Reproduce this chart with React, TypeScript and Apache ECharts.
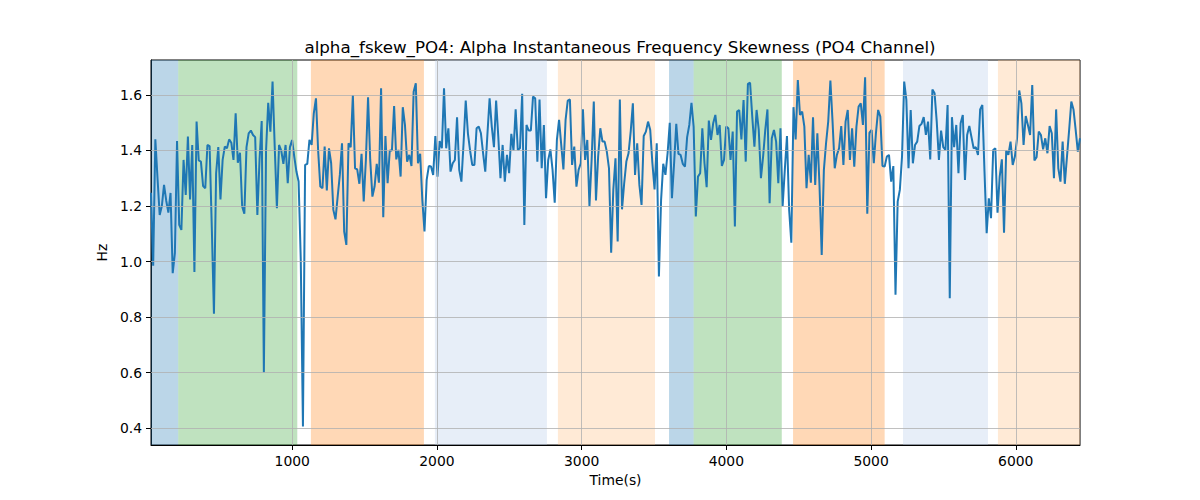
import { useEffect, useRef } from 'react'
import * as echarts from 'echarts'

// sampling grid of the signal (seconds)
const sampleStart = 24
const sampleStep = 15

// alpha fskew values (Hz), one per sample
const skewValues: number[] = [
  1.248, 0.985, 1.44, 1.3, 1.168, 1.2, 1.276, 1.22, 1.176, 1.247, 0.958, 1.03, 1.434,
  1.132, 1.114, 1.366, 1.24, 1.45, 1.224, 1.42, 0.962, 1.504, 1.364, 1.36, 1.272, 1.264,
  1.42, 1.416, 1.126, 0.812, 1.318, 1.412, 1.224, 1.366, 1.414, 1.408, 1.44, 1.428, 1.366,
  1.534, 1.356, 1.392, 1.198, 1.172, 1.412, 1.462, 1.472, 1.456, 1.448, 1.168, 1.366, 1.506,
  0.6, 1.4, 1.572, 1.468, 1.648, 1.414, 1.192, 1.42, 1.4, 1.352, 1.42, 1.282, 1.412,
  1.438, 1.378, 1.324, 1.288, 1.006, 0.406,
  // 71
  1.348, 1.352, 1.438, 1.42, 1.534, 1.588, 1.4, 1.27, 1.264, 1.414, 1.256, 1.408, 1.354,
  1.186, 1.152, 1.234, 1.312, 1.426, 1.108, 1.06, 1.426, 1.412, 1.6, 1.336, 1.332, 1.28,
  1.388, 1.216, 1.366, 1.592, 1.366, 1.234, 1.27, 1.352, 1.284, 1.624, 1.16, 1.452, 1.282,
  1.4, 1.4, 1.56, 1.368, 1.402, 1.306, 1.556, 1.492, 1.36, 1.384, 1.344, 1.612, 1.642,
  1.354, 1.388, 1.222, 1.108, 1.294, 1.344, 1.342, 1.312, 1.452, 1.306, 1.434, 1.408, 1.624,
  1.408, 1.48, 1.324, 1.354, 1.366, 1.52, 1.33,
  // 143
  1.288, 1.426, 1.58, 1.462, 1.4, 1.348, 1.348, 1.48, 1.486, 1.462, 1.39, 1.324, 1.46,
  1.588, 1.486, 1.412, 1.58, 1.45, 1.3, 1.42, 1.288, 1.384, 1.318, 1.46, 1.4, 1.548,
  1.402, 1.408, 1.604, 1.132, 1.492, 1.472, 1.472, 1.594, 1.588, 1.36, 1.584, 1.336, 1.492,
  1.228, 1.366, 1.404, 1.33, 1.212, 1.438, 1.51, 1.42, 1.332, 1.51, 1.58, 1.584, 1.348,
  1.414, 1.27, 1.33, 1.354, 1.548, 1.366, 1.438, 1.2, 1.366, 1.576, 1.22, 1.378, 1.48,
  1.432, 1.432, 1.396, 1.336, 1.032, 1.26,
  // 214
  1.372, 1.072, 1.584, 1.188, 1.282, 1.36, 1.39, 1.468, 1.57, 1.312, 1.426, 1.276, 1.204,
  1.452, 1.468, 1.504, 1.474, 1.354, 1.26, 1.426, 0.946, 1.222, 1.352, 1.312, 1.39, 1.5,
  1.228, 1.354, 1.496, 1.388, 1.384, 1.352, 1.342, 1.448, 1.492, 1.572, 1.486, 1.162, 1.306,
  1.318, 1.48, 1.354, 1.268, 1.508, 1.438, 1.498, 1.528, 1.456, 1.492, 1.344, 1.366, 1.486,
  1.48, 1.366, 1.468, 1.126, 1.54, 1.546, 1.44, 1.582, 1.36, 1.64, 1.644, 1.522, 1.414,
  1.546, 1.474, 1.3, 1.378, 1.474, 1.548, 1.21,
  // 286
  1.444, 1.474, 1.432, 1.282, 1.48, 1.2, 1.33, 1.452, 1.186, 1.068, 1.556, 1.44, 1.654,
  1.528, 1.54, 1.486, 1.264, 1.384, 1.284, 1.52, 1.276, 1.462, 1.27, 1.024, 1.33, 1.426,
  1.504, 1.652, 1.504, 1.336, 1.384, 1.408, 1.488, 1.348, 1.504, 1.546, 1.366, 1.48, 1.342,
  1.486, 1.558, 1.57, 1.492, 1.664, 1.172, 1.464, 1.474, 1.354, 1.464, 1.546, 1.522, 1.344,
  1.342, 1.378, 1.384, 1.288, 1.344, 0.88, 1.216, 1.258, 1.378, 1.648, 1.582, 1.336, 1.546,
  1.354, 1.42, 1.432, 1.488, 1.496, 1.52,
  // 357
  1.456, 1.504, 1.368, 1.62, 1.606, 1.504, 1.366, 1.472, 1.412, 1.402, 1.564, 0.868, 1.52,
  1.412, 1.492, 1.318, 1.498, 1.528, 1.294, 1.456, 1.488, 1.448, 1.408, 1.412, 1.384, 1.548,
  1.564, 1.324, 1.102, 1.228, 1.156, 1.402, 1.408, 1.176, 1.306, 1.368, 1.104, 1.4, 1.384,
  1.432, 1.348, 1.378, 1.444, 1.616, 1.57, 1.42, 1.524, 1.492, 1.456, 1.636, 1.364, 1.376,
  1.468, 1.456, 1.404, 1.444, 1.39, 1.488, 1.462, 1.3, 1.548, 1.336, 1.288, 1.432, 1.28,
  1.378, 1.474, 1.576, 1.548, 1.474, 1.396, 1.444,
]

// shaded phases: [start, end, kind]
const phases: [number, number, string][] = [
  [24, 212, 'blue'],
  [212, 1035, 'green'],
  [1129, 1910, 'orange'],
  [1986, 2760, 'lightBlue'],
  [2836, 3507, 'lightOrange'],
  [3604, 3774, 'blue'],
  [3774, 4383, 'green'],
  [4461, 5094, 'orange'],
  [5221, 5808, 'lightBlue'],
  [5877, 6444, 'lightOrange'],
]

const xTicks = [1000, 2000, 3000, 4000, 5000, 6000]
const yTicks = [0.4, 0.6, 0.8, 1.0, 1.2, 1.4, 1.6]

const phaseColors: Record<string, string> = {
  blue: 'rgba(31,119,180,0.3)',
  green: 'rgba(44,160,44,0.3)',
  orange: 'rgba(255,127,14,0.3)',
  lightBlue: 'rgba(174,199,232,0.3)',
  lightOrange: 'rgba(255,187,120,0.3)',
}

const FONT = 'DejaVu Sans'

function App() {
  const chartRef = useRef<HTMLDivElement>(null)

  useEffect(() => {
    if (!chartRef.current) return
    const chart = echarts.init(chartRef.current, undefined, { renderer: 'svg' })

    const lineData = skewValues.map((v, i) => [sampleStart + i * sampleStep, v])
    const xMin = sampleStart
    const xMax = sampleStart + (skewValues.length - 1) * sampleStep

    const option: echarts.EChartsOption = {
      animation: false,
      backgroundColor: '#ffffff',
      title: {
        text: 'alpha_fskew_PO4: Alpha Instantaneous Frequency Skewness (PO4 Channel)',
        left: 615,
        top: 33,
        textAlign: 'center',
        textStyle: { fontFamily: FONT, fontSize: 16.7, fontWeight: 'normal', color: '#000' },
      },
      grid: {
        left: 151,
        right: 120,
        top: 60,
        bottom: 55,
        show: true,
        borderColor: '#000',
        borderWidth: 1,
        backgroundColor: 'transparent',
      },
      xAxis: {
        type: 'value',
        min: xMin,
        max: xMax,
        name: 'Time(s)',
        nameLocation: 'middle',
        nameGap: 28,
        nameTextStyle: { fontFamily: FONT, fontSize: 13.9, color: '#000' },
        axisLine: { show: true, lineStyle: { color: '#000', width: 1 } },
        axisTick: { show: true, length: 5, lineStyle: { color: '#000', width: 1 }, customValues: xTicks },
        axisLabel: {
          customValues: xTicks,
          margin: 9,
          fontFamily: FONT,
          fontSize: 13.9,
          color: '#000',
          formatter: (v: number) => String(Math.round(v)),
        },
        splitLine: { show: false },
      },
      yAxis: {
        type: 'value',
        min: 0.339,
        max: 1.726,
        name: 'Hz',
        nameLocation: 'middle',
        nameGap: 38,
        nameTextStyle: { fontFamily: FONT, fontSize: 13.9, color: '#000' },
        axisLine: { show: true, lineStyle: { color: '#000', width: 1 } },
        axisTick: { show: true, length: 5, lineStyle: { color: '#000', width: 1 }, customValues: yTicks },
        axisLabel: {
          customValues: yTicks,
          margin: 9,
          fontFamily: FONT,
          fontSize: 13.9,
          color: '#000',
          formatter: (v: number) => v.toFixed(1),
        },
        splitLine: { show: false },
      },
      series: [
        {
          type: 'line',
          z: 1,
          data: [],
          silent: true,
          markArea: {
            silent: true,
            data: phases.map(([s, e, kind]) => [
              { xAxis: s, itemStyle: { color: phaseColors[kind] } },
              { xAxis: e },
            ]) as any,
          },
        },
        {
          type: 'line',
          z: 2,
          data: [],
          silent: true,
          markLine: {
            silent: true,
            symbol: ['none', 'none'],
            label: { show: false },
            lineStyle: { color: '#b0b0b0', width: 0.8, type: 'solid' },
            data: [
              ...xTicks.map((v) => ({ xAxis: v })),
              ...yTicks.map((v) => ({ yAxis: v })),
            ],
          },
        },
        {
          type: 'line',
          z: 3,
          data: lineData,
          showSymbol: false,
          symbol: 'none',
          lineStyle: { color: '#1f77b4', width: 2 },
          itemStyle: { color: '#1f77b4' },
        },
      ],
    }

    chart.setOption(option)

    return () => {
      chart.dispose()
    }
  }, [])

  return (
    <div
      ref={chartRef}
      style={{ position: 'fixed', left: 0, top: 0, width: 1200, height: 500 }}
    />
  )
}

export default App
